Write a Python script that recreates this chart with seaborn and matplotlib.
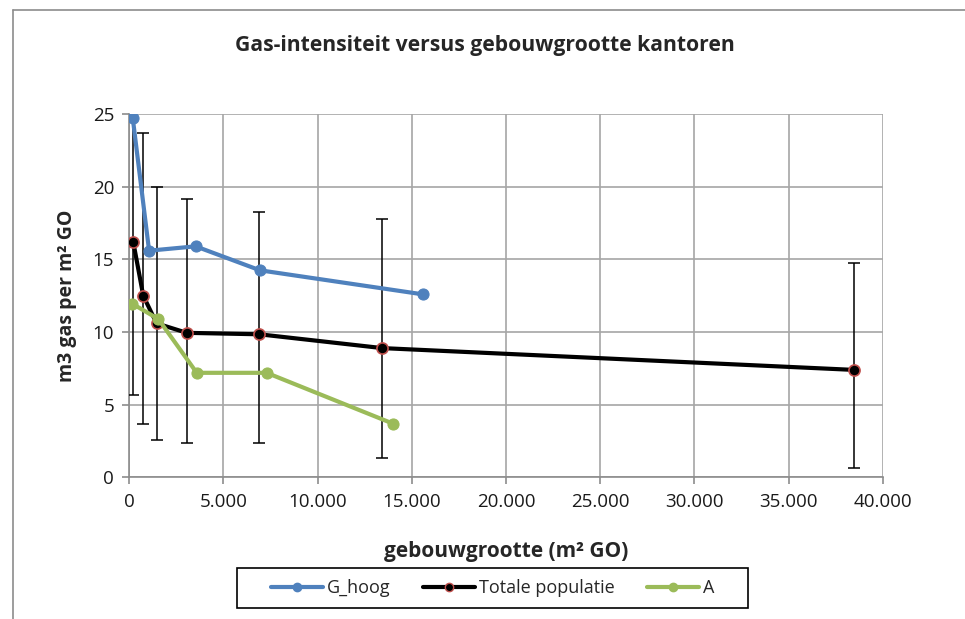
import numpy as np
import pandas as pd
import matplotlib
matplotlib.use("Agg")
import matplotlib.pyplot as plt
import seaborn as sns
from matplotlib.ticker import FuncFormatter, MultipleLocator
from matplotlib.lines import Line2D
from matplotlib.patches import Rectangle

# data
g_hoog_x = [180, 1050, 3520, 6940, 15570]
g_hoog_y = [24.75, 15.6, 15.9, 14.25, 12.6]

totaal_x = [210, 740, 1450, 3050, 6900, 13430, 38480]
totaal_y = [16.2, 12.5, 10.6, 9.95, 9.85, 8.9, 7.4]
totaal_hi = [26.8, 23.7, 20.0, 19.15, 18.25, 17.8, 14.75]
totaal_lo = [5.65, 3.7, 2.6, 2.4, 2.4, 1.35, 0.65]

a_x = [160, 1540, 3580, 7290, 14010]
a_y = [11.95, 10.9, 7.2, 7.2, 3.7]

blue = "#4f81bd"
green = "#9bbb59"
edge_red = "#c0504d"

sns.set_theme(style="white")
plt.rcParams["font.family"] = ["Open Sans", "DejaVu Sans"]

W, H = 965, 619
fig = plt.figure(figsize=(W / 100, H / 100), dpi=100)
ax = fig.add_axes([0.134, 0.2286, 0.7807, 0.5872])

df_tot = pd.DataFrame({"x": totaal_x, "y": totaal_y})
df_a = pd.DataFrame({"x": a_x, "y": a_y})
df_g = pd.DataFrame({"x": g_hoog_x, "y": g_hoog_y})

# error bars of the total population
yerr = [np.array(totaal_y) - np.array(totaal_lo), np.array(totaal_hi) - np.array(totaal_y)]
ax.errorbar(totaal_x, totaal_y, yerr=yerr, fmt="none", ecolor="black",
            elinewidth=1.1, capsize=4.5, capthick=1.1, zorder=3)

sns.lineplot(data=df_tot, x="x", y="y", sort=False, ax=ax, color="black", lw=3,
             marker="o", markersize=8, markerfacecolor="black",
             markeredgecolor=edge_red, markeredgewidth=1.2, zorder=4)
sns.lineplot(data=df_a, x="x", y="y", sort=False, ax=ax, color=green, lw=3,
             marker="o", markersize=8, markeredgecolor=green, zorder=5)
sns.lineplot(data=df_g, x="x", y="y", sort=False, ax=ax, color=blue, lw=3,
             marker="o", markersize=8, markeredgecolor=blue, zorder=6)

ax.set_xlim(0, 40000)
ax.set_ylim(0, 25)
ax.xaxis.set_major_locator(MultipleLocator(5000))
ax.yaxis.set_major_locator(MultipleLocator(5))
ax.xaxis.set_major_formatter(FuncFormatter(lambda v, p: f"{int(v):,}".replace(",", ".")))

ax.grid(True, color="#a6a6a6", lw=1.2)
ax.set_axisbelow(True)
for side in ["top", "right"]:
    ax.spines[side].set_visible(False)
for side in ["left", "bottom"]:
    ax.spines[side].set_color("#8c8c8c")
    ax.spines[side].set_linewidth(1.2)
ax.tick_params(axis="both", which="major", length=5, width=1.2, color="#8c8c8c",
               labelsize=13.5, labelcolor="#1a1a1a", direction="out",
               bottom=True, left=True, pad=6)

ax.set_xlabel("gebouwgrootte (m² GO)", fontsize=15, fontweight="bold", labelpad=22)
ax.set_ylabel("m3 gas per m² GO", fontsize=14, fontweight="bold", labelpad=11)

fig.text(0.502, 0.927, "Gas-intensiteit versus gebouwgrootte kantoren",
         ha="center", va="center", fontsize=15.2, fontweight="bold")

# legend in the original order, with a hand-drawn frame
handles = [
    Line2D([], [], color=blue, lw=3, marker="o", markersize=6),
    Line2D([], [], color="black", lw=3, marker="o", markersize=6,
           markerfacecolor="black", markeredgecolor=edge_red),
    Line2D([], [], color=green, lw=3, marker="o", markersize=6),
]
fig.legend(handles, ["G_hoog", "Totale populatie", "A"], loc="center",
           bbox_to_anchor=(492.5 / W, 1 - 588 / H), ncol=3, fontsize=13,
           frameon=False, handlelength=2.9, handletextpad=0.2,
           columnspacing=1.8, borderpad=0.3)
fig.add_artist(Rectangle((237 / W, 1 - 608 / H), 511 / W, 40 / H,
                         transform=fig.transFigure, fill=False,
                         edgecolor="black", lw=1.2))

# outer chart frame (only top and left edge visible)
fig.add_artist(Line2D([13 / W, 1], [1 - 10 / H, 1 - 10 / H],
                      transform=fig.transFigure, color="#8c8c8c", lw=1.2))
fig.add_artist(Line2D([13 / W, 13 / W], [0, 1 - 10 / H],
                      transform=fig.transFigure, color="#8c8c8c", lw=1.2))

fig.savefig("out.png", dpi=100)
